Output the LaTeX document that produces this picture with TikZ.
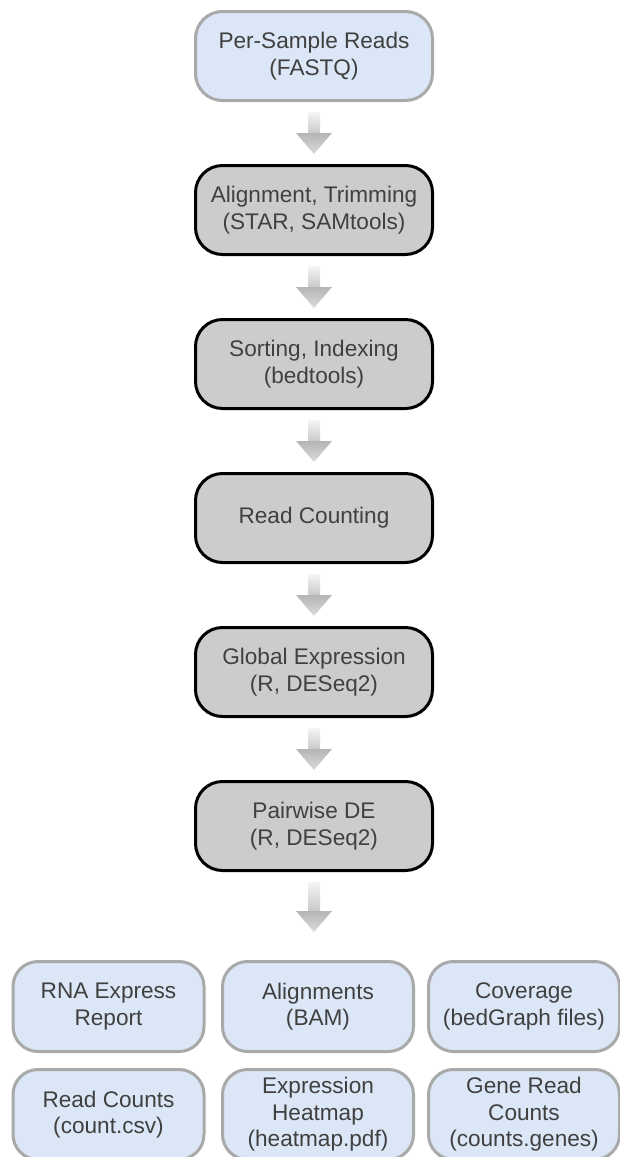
\documentclass[tikz,border=0pt]{standalone}
\usepackage{fontspec}
\setmainfont{Liberation Sans}
\usetikzlibrary{calc}
\definecolor{boxblue}{HTML}{DBE7F6}
\definecolor{blueline}{HTML}{A9A9A9}
\definecolor{boxgray}{HTML}{CCCCCC}
\definecolor{txt}{HTML}{404040}
\tikzset{
  mainbox/.style={rectangle, rounded corners=27pt, line width=3pt,
    minimum width=237pt, minimum height=89pt, align=center, text=txt,
    font=\fontsize{22.6}{26.5}\selectfont, inner sep=0pt},
  toolbox/.style={mainbox, draw=black, fill=boxgray},
  inbox/.style={mainbox, draw=blueline, fill=boxblue},
  outbox/.style={mainbox, draw=blueline, fill=boxblue, rounded corners=25pt,
    minimum width=191pt, minimum height=90pt}
}
\newcommand{\flowarrow}[4]{% from, to, top gap, bottom gap
  \coordinate (fa-s) at ($(#1.south)+(0,-#3)$);
  \coordinate (fa-t) at ($(#2.north)+(0,#4)$);
  \coordinate (fa-t) at (fa-s |- fa-t);
  \coordinate (fa-h) at ($(fa-t)+(0,21)$);
  \shade[top color=gray!8, bottom color=gray!42]
    ($(fa-s)+(-6,0)$) rectangle ($(fa-h)+(6,0)$);
  \shade[top color=gray!58, bottom color=gray!28]
    ($(fa-h)+(-18,0)$) -- ($(fa-h)+(18,0)$) -- (fa-t) -- cycle;
}
\begin{document}
\begin{tikzpicture}[x=1pt,y=1pt]
\useasboundingbox (0,0) rectangle (620,-1157);
\clip (0,0) rectangle (620,-1157);
\node[inbox]   (reads) at (314,-56)  {Per-Sample Reads\\(FASTQ)};
\node[toolbox] (align) at (314,-210) {Alignment, Trimming\\(STAR, SAMtools)};
\node[toolbox] (sort)  at (314,-364) {Sorting, Indexing\\(bedtools)};
\node[toolbox] (count) at (314,-518) {Read Counting};
\node[toolbox] (glob)  at (314,-672) {Global Expression\\(R, DESeq2)};
\node[toolbox] (pair)  at (314,-826) {Pairwise DE\\(R, DESeq2)};

\node[outbox] (report)  at (108.5,-1006.5) {RNA Express\\Report};
\node[outbox] (bam)     at (318,-1006.5)   {Alignments\\(BAM)};
\node[outbox] (cov)     at (524,-1006.5)   {Coverage\\(bedGraph files)};
\node[outbox] (rc)      at (108.5,-1114.5) {Read Counts\\(count.csv)};
\node[outbox] (heat)    at (318,-1114.5)   {Expression\\Heatmap\\(heatmap.pdf)};
\node[outbox] (genes)   at (524,-1114.5)   {Gene Read\\Counts\\(counts.genes)};

\flowarrow{reads}{align}{10}{10}
\flowarrow{align}{sort}{10}{10}
\flowarrow{sort}{count}{10}{10}
\flowarrow{count}{glob}{10}{10}
\flowarrow{glob}{pair}{10}{10}
\flowarrow{pair}{bam}{10}{28}
\end{tikzpicture}
\end{document}
